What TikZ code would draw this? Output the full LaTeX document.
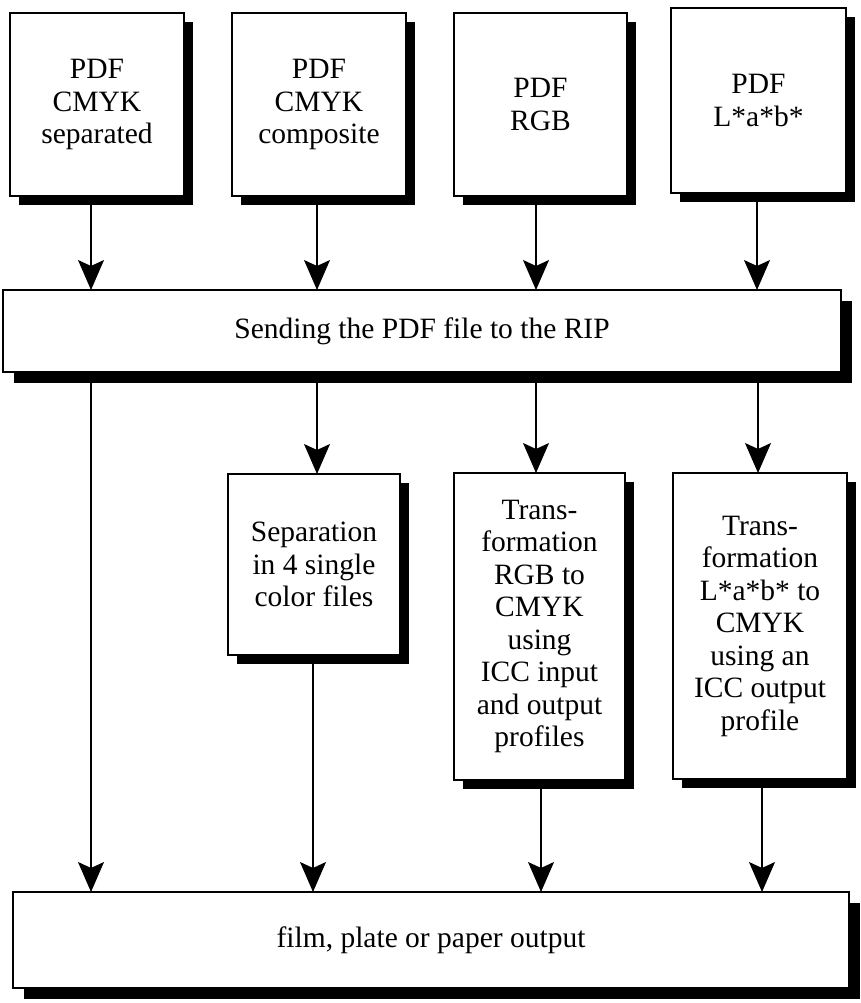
\documentclass[tikz,border=0pt]{standalone}
\usepackage{fontspec}
\setmainfont{Liberation Serif}
\usetikzlibrary{arrows.meta,shadows,calc}
\tikzset{
  box/.style={draw=black, fill=white, line width=1.3pt, inner sep=0pt, outer sep=0pt,
    align=center, font=\fontsize{29.5}{32.5}\selectfont},
  shadowA/.style={drop shadow={shadow xshift=9pt, shadow yshift=-9pt, fill=black, opacity=1}},
  shadowB/.style={drop shadow={shadow xshift=11pt, shadow yshift=-11pt, fill=black, opacity=1}},
  arr/.style={line width=1.2pt, -{Stealth[length=30pt, width=26pt, inset=6pt]}},
  plain/.style={line width=1.2pt}
}
\begin{document}
\begin{tikzpicture}[x=1pt, y=-1pt]
\useasboundingbox (0,0) rectangle (861,1003);

% source files
\node[box, shadowA, minimum width=174pt, minimum height=183pt] (a) at (97,104.5) {PDF\\CMYK\\separated};
\node[box, shadowA, minimum width=174pt, minimum height=183pt] (b) at (319,104.5) {PDF\\CMYK\\composite};
\node[box, shadowA, minimum width=173pt, minimum height=183pt] (c) at (540.5,104.5) {PDF\\RGB};
\node[box, shadowA, minimum width=175pt, minimum height=185pt] (d) at (758.5,100.5) {PDF\\L*a*b*};

% RIP
\node[box, shadowB, minimum width=838pt, minimum height=82pt] (mid) at (422,331) {Sending the PDF file to the RIP};

% processing in the RIP
\node[box, shadowA, minimum width=172pt, minimum height=181pt] (s) at (314,564.5) {Separation\\in 4 single\\color files};
\node[box, shadowA, minimum width=171pt, minimum height=307pt] (r) at (539.5,626.5) {Trans-\\formation\\RGB to\\CMYK\\using\\ICC input\\and output\\profiles};
\node[box, shadowA, minimum width=174pt, minimum height=306pt] (l) at (760,626) {Trans-\\formation\\L*a*b* to\\CMYK\\using an\\ICC output\\profile};

% output
\node[box, shadowB, minimum width=836pt, minimum height=96pt] (out) at (431,940) {film, plate or paper output};

% sources to RIP
\draw[arr] ($(a.south)+(-6,0)$) -- ($(a.south |- mid.north)+(-6,0)$);
\draw[arr] ($(b.south)+(-2,0)$) -- ($(b.south |- mid.north)+(-2,0)$);
\draw[arr] ($(c.south)+(-4.5,0)$) -- ($(c.south |- mid.north)+(-4.5,0)$);
\draw[arr] ($(d.south)+(-1.5,0)$) -- ($(d.south |- mid.north)+(-1.5,0)$);

% RIP to processing steps
\draw[arr] ($(s.north |- mid.south)+(3,0)$) -- ($(s.north)+(3,0)$);
\draw[arr] ($(r.north |- mid.south)+(-3.5,0)$) -- ($(r.north)+(-3.5,0)$);
\draw[arr] ($(l.north |- mid.south)+(-2,0)$) -- ($(l.north)+(-2,0)$);

% to the output device
\draw[arr] ($(a.south |- mid.south)+(-6,0)$) -- ($(a.south |- out.north)+(-6,0)$);
\draw[arr] ($(s.south)+(-1,0)$) -- ($(s.south |- out.north)+(-1,0)$);
\draw[arr] ($(r.south)+(1.5,0)$) -- ($(r.south |- out.north)+(1.5,0)$);
\draw[arr] ($(l.south)+(2,0)$) -- ($(l.south |- out.north)+(2,0)$);
\end{tikzpicture}
\end{document}
